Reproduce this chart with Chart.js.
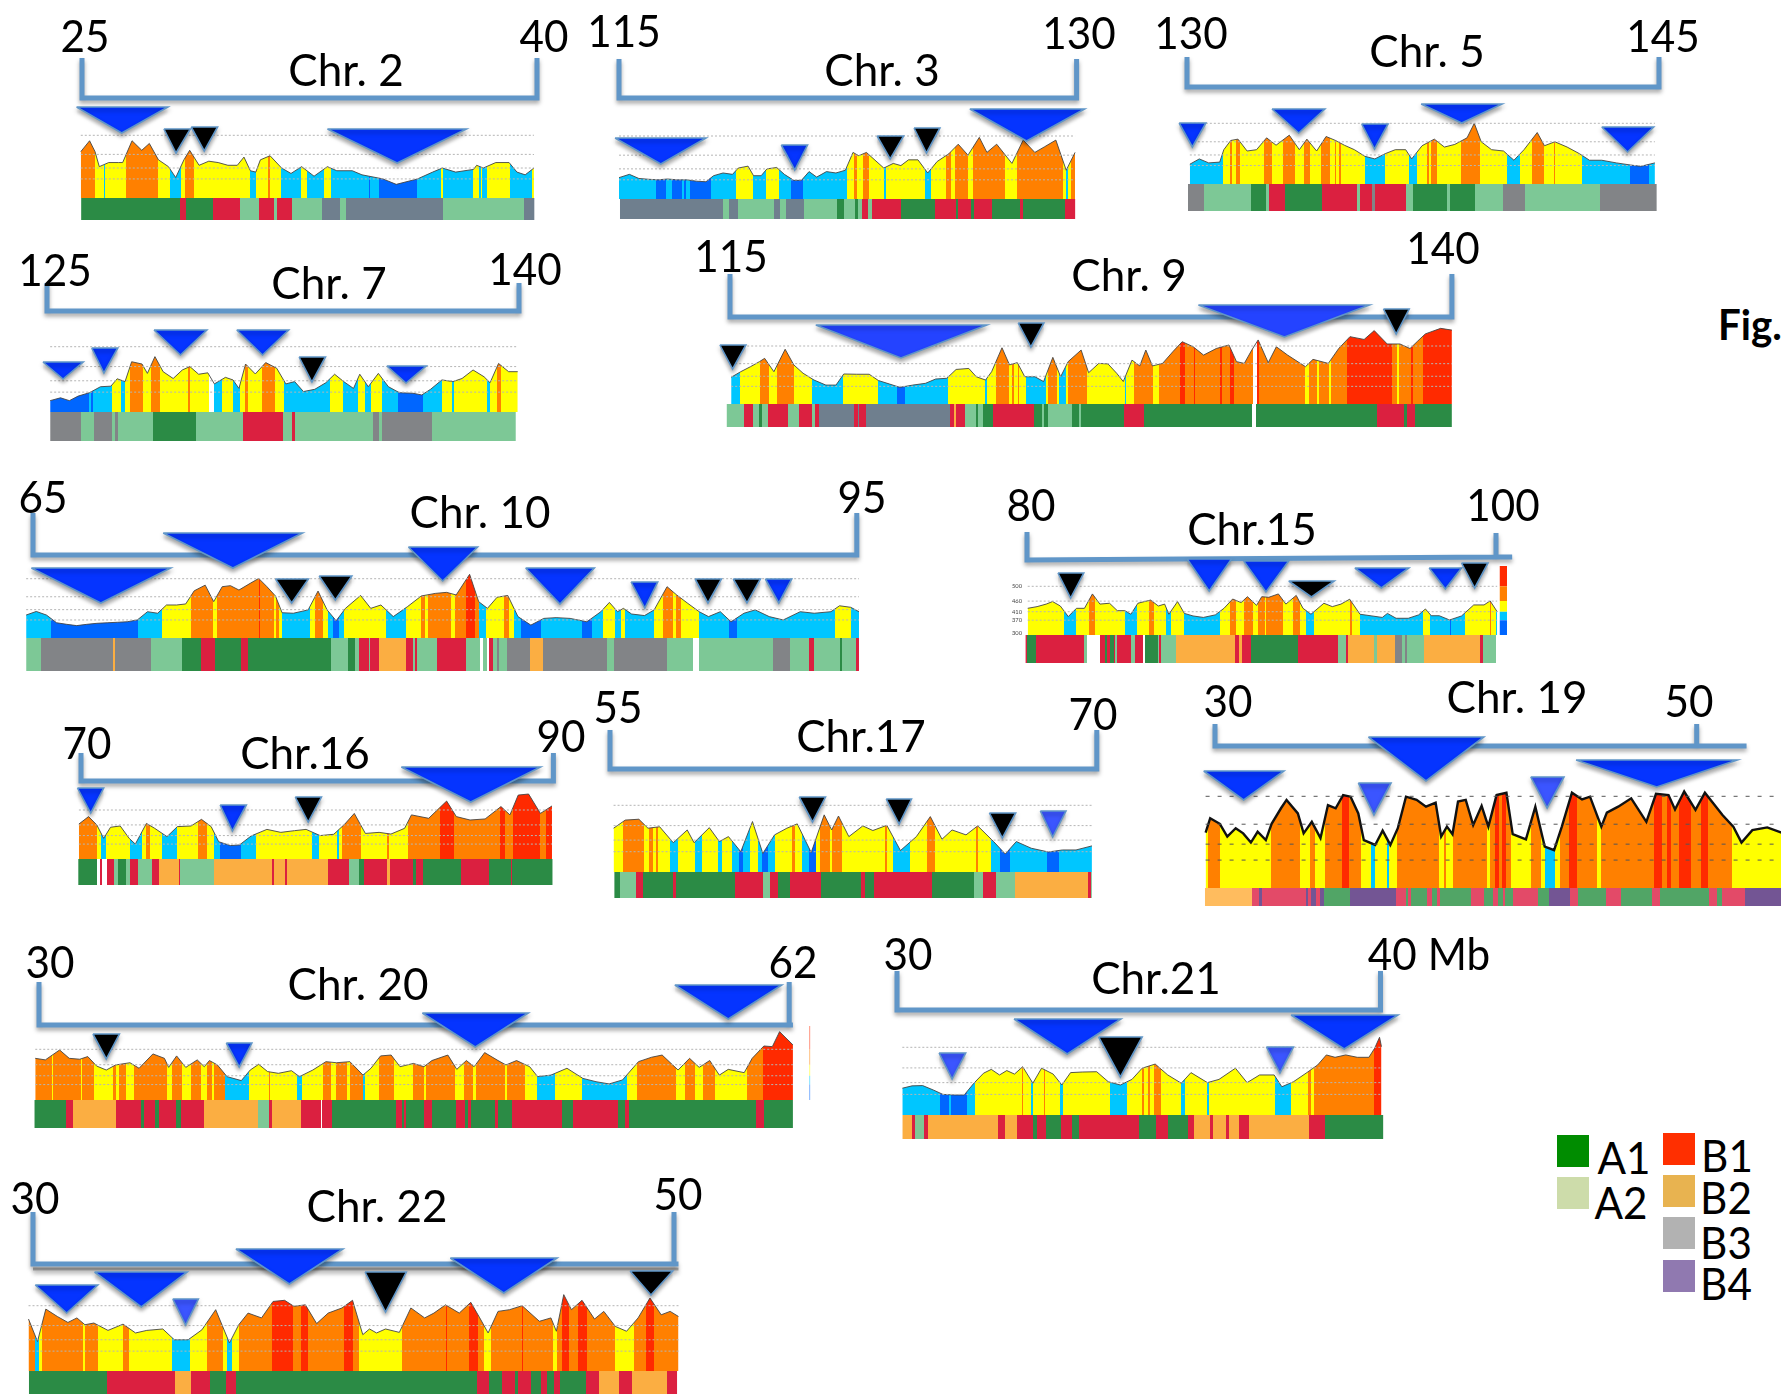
<!DOCTYPE html>
<html>
<head>
<meta charset="utf-8">
<title>Chromosome GC maps</title>
<script src="https://cdn.jsdelivr.net/npm/chart.js@4/dist/chart.umd.js"></script>
<style>
    html, body { margin: 0; padding: 0; background: #fff; }
    #page { position: relative; width: 1781px; height: 1394px; overflow: hidden; background: #fff; }
    #page canvas { position: absolute; }
    .txt { position: absolute; font-family: Lato, sans-serif; color: #000; line-height: 1; white-space: nowrap;
           transform: translate(-50%, -50%) scaleX(0.96); }
    .title { transform: translate(-50%, -50%) scaleX(1); }
    .swatch { position: absolute; width: 32px; height: 32px; }
</style>
</head>
<body>
<div id="page"></div>
<script>
// GC levels that split the isochore families, drawn as the dotted lines
const gcLevels = [37, 41, 46, 53];
const gcBase = 30;

// Pos + Gc: the signal, Mb position and GC percent
// heat runs: start, state, stop, state, stop ... in Mb
// d/b/y/o/r = the five isochore colours, w = no data
// comp runs: same form, G=A1 L=A2 R=B1 O=B2 S=B3 P=B4 W=gap
// marks: kind, left Mb, right Mb, tip Mb, top height, tip height

// Chr 2
const chr2Ticks = ['25', '40'];
const chr2Pos = [24.96,25.25,25.43,25.57,25.88,26.2,26.34,26.65,26.97,27.22,27.52,27.85,28.09,28.36,28.55,28.86,29.18,29.49,29.81,30.12,30.34,30.55,30.73,30.88,31.2,31.58,31.89,32.24,32.65,33.09,33.4,33.91,34.23,34.92,35.36,36.06,36.56,36.88,37.32,37.91,38.01,38.23,38.64,39.08,39.34,39.61,39.9];
const chr2Gc = [47,51,47,41.5,43,43,43,51,47.5,50,44,41.5,37.5,44,47.5,42,43.5,43,42,42,45,40,39.5,44,45.5,41,39,41.5,38,41.5,40,40,38.5,37,35,37,39.5,41,39.5,40.5,42,41,43,43,39.5,38.5,41];
const chr2Heat = [24.96,'o',25.43,'y',25.71,'b',25.76,'y',26.44,'o',27.52,'y',27.89,'b',28.25,'y',28.39,'o',28.69,'y',30.54,'b',30.72,'y',31.12,'o',31.19,'y',31.56,'b',32.23,'y',32.42,'b',32.99,'y',33.22,'b',34.46,'d',34.5,'b',34.8,'d',36.06,'b',36.85,'y',36.9,'b',37.89,'y',38.08,'b',38.14,'y',38.2,'b',38.34,'y',39.12,'b',39.82,'y',39.9];
const chr2Comp = [24.97,'G',28.23,'R',28.43,'G',29.33,'R',30.21,'L',30.84,'R',31.34,'L',31.44,'R',31.93,'L',32.91,'S',33.52,'L',33.71,'S',36.91,'L',39.57,'S',39.92];
const chr2Marks = [['b',24.82,27.83,26.31,91,65],['k',27.7,28.57,28.1,69,45],['k',28.6,29.47,29.03,71,47],['b',33.09,37.67,35.39,69,35]];

// Chr 3
const chr3Ticks = ['115', '130'];
const chr3Pos = [115,115.34,115.65,115.97,116.28,116.59,116.91,117.22,117.54,117.85,118.1,118.41,118.72,118.91,119.23,119.41,119.66,119.85,120.17,120.42,120.73,120.98,121.23,121.48,121.8,122.11,122.42,122.67,122.86,123.11,123.36,123.68,123.99,124.24,124.49,124.8,125.12,125.43,125.81,126.12,126.44,126.81,127.06,127.38,127.88,128.25,128.63,128.94,129.32,129.66,129.95];
const chr3Gc = [37.8,39,37.5,37.2,37,37.3,37,37,36.5,36.3,38.5,39.5,39,41.3,42,38.5,38.5,41,41.5,39,36.8,36.8,40,38,40,39.5,40.5,47,45.8,47,44.5,41.3,43,42.2,44.3,44.3,39.5,43.7,46.5,50,46,52.5,47,50,43,51.5,47,49,51.5,40.5,47];
const chr3Heat = [115,'b',116.2,'d',116.54,'b',116.74,'d',117.07,'b',117.14,'d',117.19,'b',117.32,'d',118.03,'b',118.82,'y',119.38,'b',119.83,'y',120.23,'b',120.63,'d',121.02,'b',122.49,'y',122.69,'o',122.81,'y',123,'o',123.19,'y',123.7,'b',123.74,'y',125.03,'b',125.22,'y',125.73,'o',125.87,'y',126,'o',126.45,'y',126.61,'o',127.65,'y',128.04,'o',129.55,'y',129.65,'b',129.71,'y',129.82,'o',129.95];
const chr3Comp = [115.03,'S',118.4,'L',118.59,'S',118.89,'L',120.07,'S',120.27,'L',120.46,'S',121.08,'L',122.16,'G',122.36,'L',122.75,'G',122.85,'L',122.95,'R',123.15,'L',123.28,'R',124.25,'G',125.35,'R',126.05,'G',126.12,'R',126.55,'G',126.65,'R',127.24,'G',128.13,'R',128.23,'G',129.62,'R',129.96];
const chr3Marks = [['b',114.87,117.85,116.37,61,35],['b',120.32,121.18,120.76,54,29],['k',123.46,124.33,123.89,63,40],['k',124.67,125.52,125.08,71,46],['b',126.5,130.26,128.36,90,58]];

// Chr 5
const chr5Ticks = ['130', '145'];
const chr5Pos = [130.09,130.39,130.69,131.04,131.17,131.39,131.62,131.91,132.21,132.53,132.83,133.25,133.57,133.81,134.12,134.42,134.72,135,135.32,135.65,135.97,136.3,136.62,136.95,137.14,137.47,137.86,138.18,138.51,138.9,139.13,139.35,139.68,140.06,140.39,140.71,141.13,141.36,141.69,142.08,142.47,142.79,143.18,143.64,144.09,144.42,144.87];
const chr5Gc = [37.5,39.5,38,38.3,43,46.5,47,42.5,43,47.5,44.7,48.5,43,47,42.5,48,46.5,44.7,43,40.5,39.5,41.5,43,43,39.5,44.5,47,44,45,47.5,53,46,43,42.5,39,43,49.5,44.5,46,44,41.5,39,39,38,37.2,36.7,38];
const chr5Heat = [130.09,'b',131.14,'y',131.36,'o',131.43,'y',131.57,'o',131.7,'y',132.44,'o',132.71,'y',133.05,'o',133.43,'y',133.71,'o',133.92,'y',134.25,'o',134.55,'y',134.69,'o',134.75,'y',134.82,'o',134.9,'y',135.65,'b',136.3,'y',137.04,'b',137.3,'y',137.64,'o',137.7,'y',137.77,'o',137.95,'y',138.7,'o',139.31,'y',140.17,'b',140.58,'y',140.96,'o',141.35,'y',141.66,'o',141.71,'y',142.55,'b',144.07,'d',144.68,'b',144.87];
const chr5Comp = [130.03,'S',130.55,'L',132.04,'G',132.51,'L',132.61,'R',133.12,'G',134.29,'R',135.4,'L',135.49,'R',135.88,'S',135.97,'R',136.96,'L',137.18,'G',138.26,'L',138.35,'G',139.14,'L',140.04,'S',140.74,'L',143.12,'S',144.93];
const chr5Marks = [['b',129.75,130.6,130.17,61,37],['b',132.7,134.38,133.55,75,51],['b',135.55,136.39,135.96,60,35],['b',137.44,140.01,138.73,80,61],['b',143.18,144.83,144,57,32]];

// Chr 7
const chr7Ticks = ['125', '140'];
const chr7Pos = [125.1,125.43,125.71,125.99,126.35,126.7,127.03,127.23,127.48,127.69,128.02,128.19,128.43,128.69,129.01,129.3,129.54,129.82,130.11,130.32,130.67,130.91,131.1,131.31,131.62,131.95,132.3,132.59,132.87,133.15,133.51,133.86,134.14,134.43,134.74,134.94,135.21,135.53,135.85,136.2,136.63,136.91,137.19,137.55,137.9,138.19,138.54,138.89,139.08,139.35,139.67,139.96];
const chr7Gc = [34,35,34,35.6,36.8,38.9,39.1,41.7,40.7,47.7,46.9,43.6,49.5,44.2,41.8,44.8,46,43.3,43.8,39.9,42.2,41.3,38.3,46.9,43.4,47.4,45.4,39.9,40.7,37.2,38,40.3,43.3,40.7,38.3,43.3,38.9,43.6,38.9,36.8,36.6,36,38,41.3,40.7,41.8,44.8,42.4,40.3,47.1,44.2,44.2];
const chr7Heat = [125.1,'d',126.33,'b',126.39,'d',126.46,'b',127.08,'y',127.34,'b',127.47,'y',127.64,'o',128.05,'y',128.3,'o',128.59,'y',129.49,'o',129.54,'y',130.15,'w',130.32,'b',130.56,'y',130.91,'b',131.14,'y',131.28,'o',131.38,'y',131.83,'o',132.24,'y',132.53,'b',133.99,'y',134.4,'b',134.87,'y',135.12,'b',135.31,'y',135.65,'b',136.17,'d',136.95,'b',137.55,'y',137.86,'b',137.94,'y',138.99,'b',139.08,'y',139.29,'o',139.43,'y',139.96];
const chr7Comp = [125.1,'S',126.08,'L',126.5,'S',127.07,'L',127.17,'S',127.25,'L',128.37,'G',129.74,'L',131.22,'R',132.5,'L',132.78,'R',132.88,'L',135.36,'S',135.55,'L',135.65,'S',137.24,'L',139.9];
const chr7Marks = [['b',124.87,126.15,125.51,50,33],['b',126.42,127.25,126.81,64,39],['b',128.4,130.08,129.24,82,57],['b',131.03,132.68,131.85,82,57],['k',133.01,133.85,133.42,55,30],['b',135.8,137.05,136.41,46,29]];

// Chr 9
const chr9Ticks = ['115', '140'];
const chr9Pos = [115.04,115.37,115.71,116.02,116.2,116.52,116.91,117.21,117.53,117.91,118.32,118.67,118.94,119.38,119.82,120.14,120.53,120.88,121.33,121.77,122.12,122.51,122.83,123.27,123.53,123.85,124.06,124.42,124.68,124.95,125.21,125.56,125.86,126.18,126.45,126.71,127.16,127.42,127.77,128.09,128.39,128.62,128.92,129.19,129.4,129.63,129.98,130.34,130.66,131.04,131.4,131.84,132.28,132.54,132.81,133.07,133.29,133.64,133.92,134.31,134.93,135.19,135.72,136.08,136.47,136.96,137.31,137.76,138.2,138.55,138.82,139.08,139.61,140];
const chr9Gc = [40.6,42.8,44.8,46.8,48.1,42.8,51.7,45.5,42.2,39.5,37.5,37.5,41.9,41.8,41.8,39.3,37.9,36.6,37.5,38.2,39.9,40.2,43.7,44.1,40.8,39.5,42.8,52.3,45.5,46.4,40.8,40.8,38.9,48.5,40.8,46.8,51.4,42.4,46.1,45.9,42.2,38.9,47.4,45.1,51.4,45.1,46.1,50.8,54.7,52.7,49.4,52,53.4,46.8,46.1,51.4,55.4,46.4,52.7,49.4,44.8,47.7,46.1,52,56.7,55.6,59.1,53.8,53.8,52,55,57.8,60,59.3];
const chr9Heat = [115.04,'b',115.34,'y',116.04,'o',116.34,'y',116.64,'o',117.21,'y',117.83,'b',118.9,'y',120.14,'b',120.8,'d',121.06,'b',122.54,'y',123.83,'b',123.9,'y',124.2,'o',124.66,'y',124.77,'o',124.82,'y',124.96,'o',125.02,'y',125.25,'b',125.94,'y',126.01,'o',126.33,'y',126.41,'b',126.63,'y',126.71,'o',127.35,'y',128.68,'b',128.71,'y',129,'o',129.13,'o',129.65,'y',129.86,'o',130.6,'r',130.74,'o',131.06,'r',131.11,'o',131.98,'r',132.03,'o',132.3,'r',132.47,'o',133.11,'w',133.25,'r',133.32,'o',134.91,'y',135.05,'o',135.34,'y',135.39,'o',135.76,'y',135.81,'o',136.36,'r',137.93,'o',138.11,'y',138.16,'o',138.6,'r',138.67,'o',138.99,'r',140];
const chr9Comp = [114.88,'L',115.49,'R',115.81,'L',116.02,'G',116.11,'L',116.31,'R',117,'L',117.4,'R',117.83,'L',117.93,'R',118.09,'S',119.31,'R',119.42,'S',119.47,'R',119.7,'S',122.63,'R',122.74,'O',122.84,'R',123.13,'L',123.53,'G',123.6,'L',123.75,'G',124.1,'R',125.53,'G',125.8,'L',125.87,'G',126.01,'L',126.86,'G',127.07,'L',127.14,'G',128.64,'R',129.35,'G',133.07,'W',133.2,'G',137.39,'R',138.34,'G',138.43,'R',138.73,'G',140];
const chr9Marks = [['k',114.65,115.55,115.09,59,35],['m',117.97,123.89,120.92,79,46],['k',124.98,125.87,125.42,81,57],['m',131.22,137.14,134.2,99,67],['k',137.63,138.52,138.07,95,70]];

// Chr 10
const chr10Ticks = ['65', '95'];
const chr10Pos = [64.75,65.12,65.49,65.86,66.23,66.59,66.96,67.33,67.7,68.07,68.43,68.8,69.17,69.54,69.86,70.23,70.56,70.87,71.27,71.58,71.89,72.19,72.5,72.91,73.22,73.52,73.83,74.07,74.48,75.02,75.38,75.71,76.04,76.38,76.93,77.3,77.67,78.12,78.63,79.14,79.65,80.06,80.41,80.9,81.23,81.55,81.9,82.29,82.66,83.13,83.6,84.05,84.56,85.17,85.68,85.99,86.29,86.5,86.8,87.27,87.62,88.09,88.44,88.85,89.26,89.6,90.03,90.42,90.89,91.3,91.81,92.32,92.94,93.45,94.06,94.37,94.78,95.08];
const chr10Gc = [38.9,40.3,38.9,35.9,35.3,34.8,35.3,35.7,35.9,36.1,36.3,37,40.2,39.6,42.8,42.8,43.2,48.3,50.5,44.1,49.9,50.3,48.6,51.2,53.1,49.9,46.3,39.8,39.6,40.9,48.2,40.9,36.7,41.5,46.5,41.5,42.8,38.3,42.1,46.3,47.3,47.7,46.7,54.7,44.1,41.5,45.8,46.5,38.3,35,37.6,37.9,37.6,36.3,40.2,43.8,40.2,41.5,39.3,38.7,40.9,49.9,46.7,43.4,40.2,38.3,40.2,36.3,39.6,40.9,38.3,37,40.2,39.6,40.2,42.5,41.9,40.2];
const chr10Heat = [64.75,'b',65.65,'d',68.82,'b',69.68,'y',70.76,'o',71.56,'y',71.7,'o',73.22,'r',73.26,'o',73.79,'y',73.85,'o',73.95,'y',74.07,'b',75.07,'y',75.28,'o',75.57,'y',75.73,'b',75.93,'d',76.16,'b',76.32,'y',77.85,'b',78.59,'y',79.14,'o',79.28,'y',79.37,'o',80.22,'y',80.35,'o',80.76,'r',81.08,'o',81.25,'b',81.51,'y',82.17,'o',82.35,'y',82.53,'b',82.78,'d',83.49,'b',84.99,'d',85.37,'b',85.74,'y',86.19,'b',86.4,'y',86.56,'b',87.6,'y',87.93,'o',88.3,'y',88.42,'o',88.58,'y',89.26,'b',90.34,'d',90.65,'b',94.22,'y',94.8,'b',95.08];
const chr10Comp = [64.75,'L',65.29,'S',67.9,'O',68,'S',69.31,'L',70.44,'G',71.11,'R',71.64,'G',72.56,'R',72.83,'G',75.87,'L',76.48,'G',76.73,'L',76.89,'R',77.22,'L',77.28,'R',77.61,'O',78.59,'R',78.84,'L',78.9,'R',79,'L',79.73,'R',80.76,'L',81.29,'W',81.39,'L',81.55,'W',81.61,'R',81.74,'L',81.9,'S',81.98,'L',82.25,'S',83.09,'O',83.56,'S',85.89,'L',86.17,'S',88.09,'L',89.03,'W',89.24,'L',91.95,'S',92.55,'L',93.26,'R',93.45,'L',94.37,'G',94.45,'L',94.98,'R',95.08];
const chr10Marks = [['b',64.94,70.01,67.47,70,35],['b',69.74,74.81,72.28,105,70],['b',78.67,81.19,79.92,91,57],['b',82.94,85.44,84.19,70,34],['b',86.78,87.75,87.28,56,30],['k',73.83,75.03,74.42,59,35],['k',75.42,76.61,76.01,62,38],['k',89.11,90.07,89.58,59,35],['k',90.5,91.49,91,59,35],['b',91.67,92.63,92.16,59,35]];

// Chr 15
const chr15Ticks = ['80', '100'];
const chr15AxisLabels = ['500', '460', '410', '370', '300'];
const chr15AxisValues = [53, 46, 41, 37, 31];
const chr15Pos = [80.03,80.43,80.82,81.09,81.42,81.76,82.11,82.45,82.79,83.11,83.52,83.85,84.17,84.43,84.73,85.27,85.6,85.87,86.05,86.42,86.71,87.08,87.52,88.03,88.4,88.77,89.13,89.4,89.79,90.01,90.31,90.72,91.04,91.48,91.77,92.11,92.66,93.02,93.39,93.76,94.2,94.71,95.15,95.37,95.74,96.26,96.7,96.99,97.24,97.58,98.02,98.53,99.05,99.49,99.75,100.05];
const chr15Gc = [42.6,43.4,44.6,45.8,43.7,38.7,42.6,42.6,49.4,44.6,45,41.5,41.5,39.8,45,46.5,43.7,44.6,39.8,45.8,40.2,39,38.3,39.5,42.6,47,45.3,48.1,44,48.1,47.8,49.4,44.6,48.7,42.6,39.8,45,43.4,44.6,46.9,39.8,39,38.3,40.2,37.9,37.9,39.5,42.3,39.1,39.1,37.1,39,44.2,44.2,46.1,41];
const chr15Heat = [80.03,'y',81.59,'b',82.07,'y',82.64,'o',82.91,'y',82.98,'y',84.2,'b',84.67,'y',85.21,'o',85.42,'y',85.93,'b',86.15,'y',86.68,'b',88.24,'y',88.66,'o',88.93,'y',89.27,'o',89.62,'y',89.84,'o',90.16,'y',90.19,'o',90.9,'y',91.34,'o',91.64,'y',91.89,'b',92.25,'y',93.77,'o',93.85,'y',94.18,'b',96.89,'y',97.2,'b',98.05,'d',98.08,'b',98.69,'y',99.76,'o',99.79,'y',99.99,'b',100.05];
const chr15Comp = [79.93,'R',79.99,'G',80.4,'R',82.44,'L',82.57,'W',83.11,'R',83.33,'G',83.41,'R',83.52,'G',83.72,'R',83.74,'L',83.85,'R',84.43,'L',84.61,'R',84.95,'W',85.04,'G',85.57,'L',85.64,'R',85.71,'L',86.36,'O',88.87,'R',89.05,'O',89.18,'R',89.56,'G',91.56,'R',93.26,'L',93.61,'R',93.69,'O',94.8,'L',94.93,'O',95.7,'S',95.99,'L',96.11,'S',96.21,'L',96.93,'O',99.32,'R',99.44,'L',100];
const chr15Marks = [['k',81.32,82.42,81.86,62,37],['b',86.83,88.72,87.77,76,44],['b',89.24,91.16,90.19,74,43],['k',91.16,93.1,92.13,54,38],['b',93.98,96.28,95.11,67,47],['b',97.15,98.53,97.84,67,46],['k',98.53,99.66,99.09,72,47]];

// Chr 16
const chr16Ticks = ['70', '90'];
const chr16Pos = [69.91,70.32,70.67,70.96,71.25,71.66,72.04,72.3,72.77,73.12,73.64,74.08,74.66,75.1,75.51,75.83,76.33,76.71,77.2,77.87,78.46,79.04,79.53,80.12,80.7,81.17,81.57,82.04,82.62,83.12,83.7,83.99,84.72,85.48,85.89,86.47,87.11,87.78,88.16,88.51,88.95,89.45,89.94];
const chr16Gc = [46.4,49.9,46,39.7,44.9,45.5,39.7,37,46.7,44.4,40.5,45.2,45.5,48.6,45.2,38.1,36.3,36.6,40.8,43.9,42.5,43.3,43.9,41,41.6,46.4,51.4,42,42.5,41.7,44.4,50.7,49.1,57.2,49.9,48.3,48.8,54.6,50.7,60,60.5,51.4,54.9];
const chr16Heat = [69.91,'o',70.67,'y',70.85,'b',71.05,'y',72.07,'b',72.59,'y',72.77,'o',72.92,'y',73.44,'b',74.05,'y',74.96,'o',75.34,'y',75.63,'b',75.89,'d',76.76,'b',77.43,'y',79.77,'b',80.06,'y',80.82,'b',80.93,'y',81.05,'o',81.87,'y',82.97,'o',83.03,'y',83.85,'o',85.19,'r',85.8,'o',87.73,'r',87.93,'o',88.28,'r',89.45,'o',89.68,'r',89.94];
const chr16Comp = [69.88,'G',70.67,'W',70.82,'R',70.9,'W',71.11,'R',71.4,'L',71.57,'G',71.9,'L',72.07,'R',72.42,'L',73,'R',73.29,'O',74.14,'R',74.2,'L',75.63,'O',78.08,'R',78.16,'O',78.63,'R',78.72,'O',80.47,'R',81.34,'L',81.78,'G',81.98,'R',82.97,'O',83.09,'R',84.05,'G',84.17,'R',84.46,'G',86.09,'R',87.26,'G',88.19,'R',88.25,'G',89.97];
const chr16Marks = [['b',69.85,70.96,70.41,71,46],['b',75.89,77,76.41,54,28],['k',79.07,80.18,79.62,62,37],['b',83.56,89.45,86.5,92,57]];

// Chr 17
const chr17Ticks = ['55', '70'];
const chr17Pos = [55.11,55.47,55.89,56.17,56.53,56.95,57.38,57.59,58.06,58.37,58.65,59.03,59.39,59.71,60.07,60.45,60.77,61.2,61.6,61.83,62.04,62.36,62.79,63.1,63.53,63.95,64.44,64.87,65.23,65.54,65.97,66.33,66.82,67.18,67.52,67.98,68.51,68.94,69.36,69.85];
const chr17Gc = [45.1,47.9,48.2,45.1,45.6,40.1,44.5,40.1,45.3,40.5,42.2,37,47.4,36.4,42.8,45.1,46.6,36.7,49.7,44.5,49.3,42.2,45.9,44.3,46.1,37.4,42.2,49.1,41.3,44.5,42.8,45.9,40.5,36.2,40.5,38.2,36.9,37.6,37.6,39];
const chr17Heat = [55.11,'y',55.4,'o',56.04,'y',56.19,'o',56.32,'y',56.42,'o',56.49,'y',56.85,'b',57.1,'y',57.61,'b',57.82,'y',58.33,'b',58.44,'y',58.76,'b',58.97,'d',59.09,'b',59.31,'y',59.56,'b',59.69,'d',59.86,'b',60.07,'y',60.62,'o',60.71,'y',60.92,'b',61.13,'d',61.34,'y',61.47,'o',61.77,'y',61.85,'o',62.15,'y',63.47,'o',63.55,'y',63.72,'b',64.23,'y',64.78,'o',65.01,'y',66.29,'o',66.33,'y',66.75,'b',67.03,'d',67.31,'b',68.47,'d',68.85,'b',69.85];
const chr17Comp = [55.13,'G',55.32,'L',55.81,'R',56.02,'G',56.95,'R',57.04,'G',58.86,'R',59.71,'L',59.92,'R',60.18,'G',60.56,'R',60.69,'R',61.49,'G',62.74,'R',62.85,'G',63.15,'R',64.93,'G',66.22,'L',66.5,'R',66.88,'L',67.47,'O',69.72,'R',69.81,'L',69.85];
const chr17Marks = [['k',60.83,61.64,61.24,75,50],['k',63.51,64.29,63.91,73,48],['k',66.69,67.5,67.09,59,34],['l',68.26,69.05,68.64,61,35]];

// Chr 19
const chr19Ticks = ['30', '50'];
const chr19Pos = [29.61,29.8,30.2,30.51,30.86,31.17,31.49,31.77,32.11,32.35,32.74,32.97,33.44,33.68,34.02,34.38,34.69,35.01,35.32,35.63,35.95,36.18,36.65,36.96,37.28,37.59,37.93,38.37,38.76,39.16,39.39,39.63,39.86,40.09,40.41,40.72,41.07,41.35,41.69,42.1,42.36,42.91,43.3,43.69,44.08,44.4,44.82,45.24,45.57,46.04,46.27,46.74,47.28,47.91,48.31,48.83,49.1,49.48,49.95,50.34,51.07,51.52,51.86,52.31,52.93,53.52];
const chr19Gc = [43.9,47.5,46.1,42.9,45,43.7,41.4,44.1,42,46.1,50,52.1,48.7,43.7,46.6,42.5,50.8,50,53.3,52.9,48.7,42,40.8,44.4,40.8,45,52.9,52.1,50.4,51.4,42.9,45.4,43.5,51.7,52.1,45.8,50.6,45.4,53.3,53.9,43.5,42.2,50.4,40.4,39.5,45.4,53.9,52.2,52.9,45.4,48.9,50.4,52.5,46.6,53.6,53.3,49.7,54.2,49.6,53.9,48.3,45.4,41.4,44.5,45.2,43.9];
const chr19Heat = [29.61,'y',29.73,'o',30.2,'y',32.33,'o',32.55,'o',33.54,'y',33.94,'o',34.15,'y',34.55,'o',35.27,'r',35.56,'o',36.06,'y',36.46,'b',36.65,'y',37.15,'b',37.23,'y',37.57,'o',39.28,'y',39.5,'o',39.59,'y',39.89,'o',41.3,'y',41.42,'o',41.63,'r',41.78,'o',41.91,'r',42.1,'o',42.3,'y',43.13,'o',43.54,'y',43.72,'b',44.13,'y',44.34,'o',44.68,'r',45.04,'o',45.85,'y',46.04,'o',48.23,'r',48.55,'o',48.76,'r',48.95,'o',49.28,'r',49.77,'o',50.19,'r',50.47,'o',51.47,'y',53.52];
const chr19Comp = [29.58,'O',31.52,'R',31.83,'P',31.94,'R',33.44,'R',33.77,'P',33.87,'R',33.99,'P',34.18,'R',34.34,'P',34.52,'G',35.6,'P',37.51,'R',37.93,'G',38.03,'R',38.15,'G',38.81,'R',39.03,'G',39.22,'R',39.36,'G',40.64,'R',41.16,'G',41.53,'R',41.74,'G',41.97,'R',42.05,'G',42.36,'R',43.41,'G',43.85,'P',44.74,'R',45.06,'G',46.23,'R',46.87,'G',48.15,'R',48.48,'G',50.53,'R',50.85,'G',51.07,'R',52.02,'P',53.52];
const chr19Marks = [['b',29.53,32.86,31.19,117,88],['l',35.95,37.31,36.6,105,73],['b',36.37,41.16,38.76,151,107],['l',43.11,44.49,43.79,111,80],['b',44.99,51.68,48.34,128,101]];

// Chr 20
const chr20Ticks = ['30', '62'];
const chr20Pos = [29.84,30.27,30.88,31.29,31.74,32.08,32.46,32.87,33.27,33.88,34.27,34.86,35.35,35.53,35.87,36.26,36.75,37.05,37.27,37.61,38.02,38.63,39.01,39.37,39.75,40.21,40.77,41.11,41.68,42.24,42.69,43.26,43.82,44.16,44.57,45.02,45.4,45.97,46.42,46.76,47.44,47.82,48.23,48.56,49.01,49.58,49.92,50.37,50.93,51.27,51.84,52.52,53.2,53.76,54.32,54.89,55.57,56.13,56.58,57.26,57.75,58.16,58.61,59.02,59.4,60.08,60.42,60.92,61.28,61.59,62.16];
const chr20Gc = [48.9,48.2,52.7,48.9,48.5,49.7,45.4,43.6,45.9,46.9,44.4,50.9,48.9,44.8,50,44.8,48.2,45.1,47.9,45.9,40.6,38.8,43.6,46.2,42.9,42.1,43.3,40.6,43.6,47.4,46.9,47.4,41.3,44.4,50,50.4,45.1,46.6,45.1,47.9,50.4,43.9,47.9,45.1,51.5,47.9,45.9,47.9,45.1,40.6,41.3,44.4,39.8,38.3,37.3,39.1,47.4,49.4,50.4,43.6,48.9,44.8,47.9,41.3,43.9,42.4,48.9,54.5,54.2,61,55];
const chr20Heat = [29.84,'o',30.54,'y',30.61,'o',31.78,'y',31.85,'o',32.33,'y',33.16,'o',33.27,'y',33.43,'o',33.73,'y',34.06,'o',34.4,'o',35.46,'y',35.69,'o',36.12,'y',36.48,'o',36.89,'y',37.18,'o',37.38,'y',37.47,'o',37.95,'b',38.97,'y',39.82,'o',39.87,'y',41,'b',41.22,'y',42.13,'o',42.47,'y',42.65,'o',43.14,'y',43.26,'o',43.82,'b',43.89,'y',44.52,'o',45.15,'y',45.97,'o',46.42,'y',46.49,'o',47.73,'y',48.11,'o',48.5,'y',48.65,'o',49.87,'y',49.96,'o',50.08,'o',50.71,'y',51.25,'b',52,'y',53.15,'b',55.07,'y',55.52,'o',57.19,'y',57.55,'o',58,'y',58.34,'o',58.84,'y',60.22,'o',60.89,'r',62.16];
const chr20Comp = [29.8,'G',31.17,'R',31.47,'O',33.3,'R',34.36,'G',34.49,'R',34.95,'G',35.13,'R',35.85,'G',36.07,'R',37.05,'O',39.33,'L',39.82,'R',39.96,'O',41.16,'R',42.01,'W',42.08,'R',42.51,'G',45.22,'R',45.47,'G',45.56,'R',45.67,'G',46.42,'R',46.78,'G',47.8,'R',48.16,'G',48.29,'R',48.43,'G',49.47,'R',49.58,'G',50.19,'R',52.33,'G',52.76,'R',54.68,'G',54.98,'R',55.18,'G',60.58,'R',60.94,'G',62.16];
const chr20Marks = [['k',32.3,33.43,32.87,66,41],['b',37.99,39.08,38.54,57,33],['b',46.35,50.87,48.61,87,53],['b',57.12,61.68,59.4,115,81]];

// Chr 21
const chr21Ticks = ['30', '40 Mb'];
const chr21Pos = [30.11,30.31,30.53,30.75,30.95,31.19,31.39,31.59,31.79,31.95,32.12,32.27,32.43,32.6,32.81,32.99,33.23,33.41,33.59,33.83,34.13,34.37,34.62,34.86,35.07,35.34,35.6,35.88,36.08,36.42,36.66,37,37.24,37.5,37.8,37.96,38.2,38.46,38.7,38.88,39.06,39.28,39.52,39.76,39.88,39.98,40.02];
const chr21Gc = [39.1,39.9,40,38.5,37,36.8,36.8,40.8,44.2,45.5,43.6,45.1,43.9,46.4,40.8,45.9,43.9,40.2,44.4,44.6,44.7,41.3,40.2,42.1,45.9,47.3,43.6,40.8,44.4,41,42.1,45.9,41,43.6,43.6,39.6,41.3,44.2,47,50.4,49.6,50.4,49.6,49.6,52.7,56.4,53.2];
const chr21Heat = [30.11,'b',30.88,'d',31.08,'b',31.12,'d',31.44,'b',31.62,'y',32.58,'o',32.61,'y',32.78,'b',32.82,'y',33.05,'o',33.06,'y',33.38,'b',33.43,'y',34.4,'b',34.76,'y',35.06,'o',35.11,'y',35.19,'o',35.24,'y',35.31,'o',35.46,'y',35.88,'b',35.95,'y',36.41,'b',36.45,'y',37.82,'b',38.14,'y',38.51,'o',38.56,'y',38.62,'o',39.86,'r',40.02];
const chr21Comp = [30.11,'O',30.31,'R',30.38,'L',30.56,'R',30.65,'O',32.09,'R',32.24,'O',32.49,'R',32.82,'G',32.9,'R',33.09,'G',33.4,'R',33.62,'G',33.76,'R',35.01,'G',35.35,'R',35.61,'G',36.01,'R',36.15,'O',36.48,'R',36.54,'O',36.81,'R',36.87,'O',37.08,'R',37.27,'O',38.53,'R',38.86,'G',40.06];
const chr21Marks = [['l',30.87,31.42,31.14,62,36],['b',32.42,34.63,33.52,96,61],['k',34.17,35.07,34.62,78,38],['l',37.64,38.2,37.92,68,42],['b',38.15,40.36,39.25,100,66]];

// Chr 22
const chr22Ticks = ['30', '50'];
const chr22Pos = [29.86,30.14,30.4,30.76,31.09,31.37,31.62,31.9,32.34,32.81,33.2,33.55,34.05,34.41,34.84,35.27,35.7,36.13,36.42,36.71,37.13,37.49,37.85,38.14,38.5,38.85,39.21,39.64,39.97,40.29,40.5,40.72,41,41.43,41.79,42.22,42.51,42.87,43.3,43.66,43.94,44.2,44.51,44.87,45.26,45.8,46.16,46.33,46.56,46.8,47.13,47.52,47.81,48.17,48.52,48.88,49.25,49.6,49.88,50.14];
const chr22Gc = [48.3,40.4,51.8,49.2,47.1,48.7,46.3,46.9,44.3,46.5,43.4,44.3,44.8,41,41,44.5,51.6,39.9,46.3,50.4,48.7,54.5,54.9,52.8,53.3,46.7,50.4,52.2,54.9,42.8,44.8,43.4,44.8,43.6,52.2,48.7,50.4,53.3,50.4,54.2,48.7,43.4,51,51.6,53,47.5,48.7,44,56.9,51.6,54.9,48.3,51,45.7,44,48.7,55.7,49.8,51,49.2];
const chr22Heat = [29.86,'o',30.07,'b',30.19,'y',30.27,'o',31.56,'y',31.62,'o',32.02,'y',32.81,'o',32.98,'y',34.34,'b',34.9,'y',35.44,'o',35.92,'y',36.05,'b',36.22,'y',36.42,'o',37.45,'r',38.12,'o',38.37,'r',38.57,'o',39.69,'r',40,'o',40.16,'y',41.5,'o',42.88,'r',42.92,'o',43.6,'r',43.88,'o',44.08,'y',44.3,'o',45.26,'r',45.29,'o',46.22,'y',46.36,'o',46.52,'r',46.72,'o',46.99,'r',47.29,'o',48.17,'y',48.75,'o',49.13,'r',49.38,'o',50.14];
const chr22Comp = [29.87,'G',32.31,'R',34.43,'O',34.93,'R',35.53,'G',36.03,'R',36.33,'G',43.84,'R',44.23,'G',44.63,'R',45.04,'G',45.13,'R',45.53,'G',45.85,'R',46.05,'G',46.25,'R',46.45,'G',47.25,'R',47.65,'O',48.28,'R',48.68,'O',49.79,'R',50.1];
const chr22Marks = [['b',30.07,32.02,31.05,86,58],['b',31.92,34.81,33.38,99,64],['l',34.36,35.16,34.76,72,46],['b',36.33,39.67,38,122,87],['k',40.36,41.65,41,99,59],['b',43.02,46.35,44.69,113,78],['k',48.63,49.96,49.28,100,76]];

// legend
const legendLabels = ['A1', 'A2', 'B1', 'B2', 'B3', 'B4'];
const legendColors = ['#008C00', '#CDDCAA', '#FF2F00', '#E8B350', '#B2B2B2', '#9079B0'];

const heatColors = { d: '#0066FF', b: '#00C6FF', y: '#FFFF00', o: '#FF8000', r: '#FF2A00', w: '#FFFFFF' };
const compColors = { G: '#2B8B45', L: '#7DC896', R: '#DB2040', O: '#FBAE42', S: '#828487', P: '#73548F', W: '#FFFFFF' };
const slateComp = { ...compColors, S: '#6F7F8E' };
const paleComp = { ...compColors, G: '#51A566', R: '#E34A68', O: '#FFBC5E', P: '#735594' };
const markColors = { b: '#0534FF', k: '#000000', l: '#3B55FF', m: '#2443FF' };
const bracketColor = '#6096C8';

// page layout: bracket ends, baseline and heights in px, text centres
const panels = [
    { title: 'Chr. 2', start: 25, end: 40, pos: chr2Pos, gc: chr2Gc, heat: chr2Heat, comp: chr2Comp, marks: chr2Marks, ticks: chr2Ticks, palette: slateComp,
      left: 82, right: 537, base: 198, gridH: 62.7, stripH: 22, bar: [100, 100], leg: [140, 140],
      titleAt: [346, 69], tickAt: [[85, 35], [544, 35]] },
    { title: 'Chr. 3', start: 115, end: 130, pos: chr3Pos, gc: chr3Gc, heat: chr3Heat, comp: chr3Comp, marks: chr3Marks, ticks: chr3Ticks, palette: slateComp,
      left: 619.4, right: 1077, base: 199, gridH: 63, stripH: 20, bar: [101, 101], leg: [140, 140],
      titleAt: [882, 69], tickAt: [[624, 30], [1079, 32]] },
    { title: 'Chr. 5', start: 130, end: 145, pos: chr5Pos, gc: chr5Gc, heat: chr5Heat, comp: chr5Comp, marks: chr5Marks, ticks: chr5Ticks, palette: compColors,
      left: 1187, right: 1659, base: 184, gridH: 60.7, stripH: 27, bar: [97, 97], leg: [127, 127],
      titleAt: [1427, 50], tickAt: [[1191, 32], [1663, 35]] },
    { title: 'Chr. 7', start: 125, end: 140, pos: chr7Pos, gc: chr7Gc, heat: chr7Heat, comp: chr7Comp, marks: chr7Marks, ticks: chr7Ticks, palette: compColors,
      left: 47, right: 519, base: 412, gridH: 65.3, stripH: 29, bar: [101, 101], leg: [129, 129],
      titleAt: [329, 282], tickAt: [[54.5, 269], [525, 268]] },
    { title: 'Chr. 9', start: 115, end: 140, pos: chr9Pos, gc: chr9Gc, heat: chr9Heat, comp: chr9Comp, marks: chr9Marks, ticks: chr9Ticks, palette: slateComp,
      left: 729.5, right: 1451.4, base: 404, gridH: 58, stripH: 23, bar: [87, 87], leg: [130, 130],
      titleAt: [1129, 274], tickAt: [[731, 255], [1443, 247]] },
    { title: 'Chr. 10', start: 65, end: 95, pos: chr10Pos, gc: chr10Gc, heat: chr10Heat, comp: chr10Comp, marks: chr10Marks, ticks: chr10Ticks, palette: compColors,
      left: 32.5, right: 856.3, base: 638, gridH: 59.3, stripH: 33, bar: [83, 83], leg: [125, 125],
      titleAt: [480, 511], tickAt: [[43, 496], [862, 496]] },
    { title: 'Chr.15', start: 80, end: 100, pos: chr15Pos, gc: chr15Gc, heat: chr15Heat, comp: chr15Comp, marks: chr15Marks, ticks: chr15Ticks, palette: compColors,
      left: 1027, right: 1496, base: 635, gridH: 48.7, stripH: 28, bar: [75, 78], leg: [103, 102], barEnd: 100.69,
      keyFrom: 100.15, keyTo: 100.47, keyTop: 62.6,
      axisLabels: chr15AxisLabels, axisValues: chr15AxisValues, axisX: 1017,
      titleAt: [1252, 528], tickAt: [[1031, 504], [1503, 504]] },
    { title: 'Chr.16', start: 70, end: 90, pos: chr16Pos, gc: chr16Gc, heat: chr16Heat, comp: chr16Comp, marks: chr16Marks, ticks: chr16Ticks, palette: compColors,
      left: 81, right: 553.4, base: 859, gridH: 49, stripH: 26, bar: [78, 78], leg: [106, 106],
      titleAt: [305, 752], tickAt: [[86.5, 742], [561, 735]] },
    { title: 'Chr.17', start: 55, end: 70, pos: chr17Pos, gc: chr17Gc, heat: chr17Heat, comp: chr17Comp, marks: chr17Marks, ticks: chr17Ticks, palette: compColors,
      left: 610, right: 1096.8, base: 872, gridH: 66.7, stripH: 26, bar: [103, 103], leg: [142, 142],
      titleAt: [861, 735], tickAt: [[618, 706], [1093, 713]] },
    { title: 'Chr. 19', start: 30, end: 50, pos: chr19Pos, gc: chr19Gc, heat: chr19Heat, comp: chr19Comp, marks: chr19Marks, ticks: chr19Ticks, palette: paleComp,
      left: 1214.5, right: 1696.2, base: 888, gridH: 91.7, stripH: 18, bar: [142, 142], leg: [164, 164], barEnd: 52.07,
      lineWidth: 2.4, lineColor: '#111', gridDash: [4, 8], gridColor: '#555',
      titleAt: [1517, 696], tickAt: [[1228, 700], [1689, 700]] },
    { title: 'Chr. 20', start: 30, end: 62, pos: chr20Pos, gc: chr20Gc, heat: chr20Heat, comp: chr20Comp, marks: chr20Marks, ticks: chr20Ticks, palette: compColors,
      left: 38.6, right: 788.8, base: 1100, gridH: 50.7, stripH: 28, bar: [75, 75], leg: [118, 118], barEnd: 62.16,
      keyFrom: 62.86, keyTo: 62.9, keyTop: 63.6,
      titleAt: [358, 983], tickAt: [[50, 961], [793, 961]] },
    { title: 'Chr.21', start: 30, end: 40, pos: chr21Pos, gc: chr21Gc, heat: chr21Heat, comp: chr21Comp, marks: chr21Marks, ticks: chr21Ticks, palette: compColors,
      left: 896.7, right: 1380.2, base: 1115, gridH: 67.7, stripH: 24, bar: [105, 105], leg: [144, 144],
      titleAt: [1156, 977], tickAt: [[908, 953], [1429, 953]] },
    { title: 'Chr. 22', start: 30, end: 50, pos: chr22Pos, gc: chr22Gc, heat: chr22Heat, comp: chr22Comp, marks: chr22Marks, ticks: chr22Ticks, palette: compColors,
      left: 33, right: 674, base: 1371, gridH: 65.3, stripH: 23, bar: [107, 107], leg: [159, 159], barEnd: 50.14, underline: true,
      titleAt: [377, 1205], tickAt: [[35, 1197], [678, 1193]] }
];

const legendAt = [[1557, 1135, 1624, 1157], [1557, 1177, 1621, 1202], [1663, 1133, 1727, 1155],
                  [1663, 1175, 1726, 1197], [1663, 1217, 1726, 1242], [1663, 1260, 1726, 1283]];

const page = document.getElementById('page');
const padX = 130, padTop = 185, padBottom = 40;

function addText(text, x, y, size, cls, extra) {
    const el = document.createElement('div');
    el.className = 'txt' + (cls ? ' ' + cls : '');
    el.textContent = text;
    el.style.left = x + 'px';
    el.style.top = y + 'px';
    el.style.fontSize = size + 'px';
    if (extra) Object.assign(el.style, extra);
    page.appendChild(el);
}

// hard-edged horizontal gradient out of a run list, positions go through the x scale
function runGradient(chart, runs, colors) {
    const x = chart.scales.x;
    const lo = x.getPixelForValue(runs[0]);
    const hi = x.getPixelForValue(runs[runs.length - 1]);
    const grad = chart.ctx.createLinearGradient(lo, 0, hi, 0);
    for (let i = 0; i + 2 < runs.length; i += 2) {
        const a = (x.getPixelForValue(runs[i]) - lo) / (hi - lo);
        const b = (x.getPixelForValue(runs[i + 2]) - lo) / (hi - lo);
        const c = colors[runs[i + 1]];
        grad.addColorStop(Math.min(Math.max(a, 0), 1), c);
        grad.addColorStop(Math.min(Math.max(b, 0), 1), c);
    }
    return grad;
}

function plainLine(extra) {
    return Object.assign({ pointRadius: 0, borderWidth: 0, fill: false, tension: 0, yAxisID: 'yMark' }, extra);
}

function buildDatasets(p) {
    const sets = [];
    const from = p.heat[0], to = p.heat[p.heat.length - 1];

    // signal, coloured by isochore state
    sets.push(plainLine({
        label: p.title + ' GC',
        yAxisID: 'y',
        data: p.gc.map((v, i) => ({ x: p.pos[i], y: v })),
        borderColor: p.lineColor || '#444',
        borderWidth: p.lineWidth || 0.9,
        fill: { value: gcBase },
        backgroundColor: c => c.chart.chartArea ? runGradient(c.chart, p.heat, heatColors) : 'transparent',
        order: 100
    }));

    // compartment strip under the signal
    sets.push(plainLine({
        label: p.title + ' compartments',
        data: [{ x: p.comp[0], y: 0 }, { x: p.comp[p.comp.length - 1], y: 0 }],
        fill: { value: -p.stripH },
        backgroundColor: c => c.chart.chartArea ? runGradient(c.chart, p.comp, p.palette) : 'transparent',
        order: 99
    }));

    // colour key, where the panel has one
    if (p.keyFrom) {
        const bands = [gcBase, ...gcLevels, p.keyTop];
        ['d', 'b', 'y', 'o', 'r'].forEach((k, i) => {
            sets.push(plainLine({
                yAxisID: 'y',
                data: [{ x: p.keyFrom, y: bands[i + 1] }, { x: p.keyTo, y: bands[i + 1] }],
                fill: { value: bands[i] },
                backgroundColor: heatColors[k],
                order: 80 + i
            }));
        });
    }

    // dotted GC lines
    gcLevels.forEach((lvl, i) => {
        sets.push(plainLine({
            yAxisID: 'y',
            data: [{ x: from, y: lvl }, { x: to, y: lvl }],
            borderColor: p.gridColor || '#b5b5b5',
            borderWidth: 1,
            borderDash: p.gridDash || [2, 2],
            shadowAfter: i === 0,
            order: 50 + i
        }));
    });

    // bracket
    const barEnd = p.barEnd || p.end;
    if (p.underline) {
        sets.push(plainLine({
            data: [{ x: p.start, y: p.bar[0] - 5 }, { x: barEnd, y: p.bar[1] - 5 }],
            borderColor: '#aaa', borderWidth: 3, order: 21
        }));
    }
    const span = (p.end - p.start) / (barEnd - p.start);
    sets.push(plainLine({
        label: p.title + ' window',
        data: [
            { x: p.start, y: p.leg[0] }, { x: p.start, y: p.bar[0] },
            { x: p.end, y: p.bar[0] + (p.bar[1] - p.bar[0]) * span },
            { x: p.end, y: p.leg[1] },
            { x: p.end, y: p.bar[0] + (p.bar[1] - p.bar[0]) * span },
            { x: barEnd, y: p.bar[1] }
        ],
        borderColor: bracketColor, borderWidth: 5, borderJoinStyle: 'miter', borderCapStyle: 'butt',
        order: 20
    }));

    // triangles
    p.marks.forEach((m, i) => {
        const [kind, l, r, tip, topH, tipH] = m;
        sets.push(plainLine({
            label: p.title + ' boundary',
            data: [{ x: l, y: topH }, { x: tip, y: tipH }, { x: r, y: topH }],
            fill: { value: topH },
            backgroundColor: markColors[kind],
            order: 11 - i * 0.01
        }));
        sets.push(plainLine({
            data: [{ x: l, y: topH }, { x: tip, y: tipH }, { x: r, y: topH }, { x: l, y: topH }],
            borderColor: bracketColor, borderWidth: 1.6, borderJoinStyle: 'miter',
            order: 10.5 - i * 0.01
        }));
    });
    return sets;
}

// soft drop shadow on everything drawn after the dotted lines
const shadowPlugin = {
    id: 'marksShadow',
    afterDatasetDraw(chart, args) {
        if (chart.data.datasets[args.index].shadowAfter) {
            const ctx = chart.ctx;
            ctx.shadowColor = 'rgba(0,0,0,0.35)';
            ctx.shadowBlur = 4;
            ctx.shadowOffsetY = 3;
        }
    },
    afterDatasetsDraw(chart) {
        chart.ctx.shadowColor = 'transparent';
    }
};

function drawPanel(p) {
    const ppm = (p.right - p.left) / (p.end - p.start);
    const ppg = p.gridH / (gcLevels[3] - gcBase);
    const canvas = document.createElement('canvas');
    const w = Math.round(p.right - p.left + padX * 2);
    const h = padTop + padBottom;
    canvas.width = w;
    canvas.height = h;
    canvas.style.left = (p.left - padX) + 'px';
    canvas.style.top = (p.base - padTop) + 'px';
    canvas.style.width = w + 'px';
    canvas.style.height = h + 'px';
    page.appendChild(canvas);

    new Chart(canvas.getContext('2d'), {
        type: 'line',
        data: { datasets: buildDatasets(p) },
        options: {
            responsive: false,
            animation: false,
            events: [],
            layout: { padding: 0 },
            plugins: { legend: { display: false }, tooltip: { enabled: false }, title: { display: false } },
            scales: {
                x: { type: 'linear', display: false, min: p.start - padX / ppm, max: p.start + (w - padX) / ppm },
                y: { display: false, min: gcBase - padBottom / ppg, max: gcBase + padTop / ppg },
                yMark: { display: false, min: -padBottom, max: padTop }
            }
        },
        plugins: [shadowPlugin]
    });

    addText(p.title, p.titleAt[0], p.titleAt[1], 44, 'title');
    p.ticks.forEach((t, i) => addText(t, p.tickAt[i][0], p.tickAt[i][1], 44));
    if (p.axisLabels) {
        p.axisLabels.forEach((t, i) => {
            addText(t, p.axisX, p.base - (p.axisValues[i] - gcBase) * ppg, 6, '', { color: '#444' });
        });
    }
}

panels.forEach(drawPanel);

legendLabels.forEach((t, i) => {
    const [sx, sy, tx, ty] = legendAt[i];
    const sw = document.createElement('div');
    sw.className = 'swatch';
    sw.style.left = sx + 'px';
    sw.style.top = sy + 'px';
    sw.style.background = legendColors[i];
    page.appendChild(sw);
    addText(t, tx, ty, 44);
});

addText('Fig.', 1750, 324, 42, '', { fontWeight: 'bold' });
</script>
</body>
</html>
